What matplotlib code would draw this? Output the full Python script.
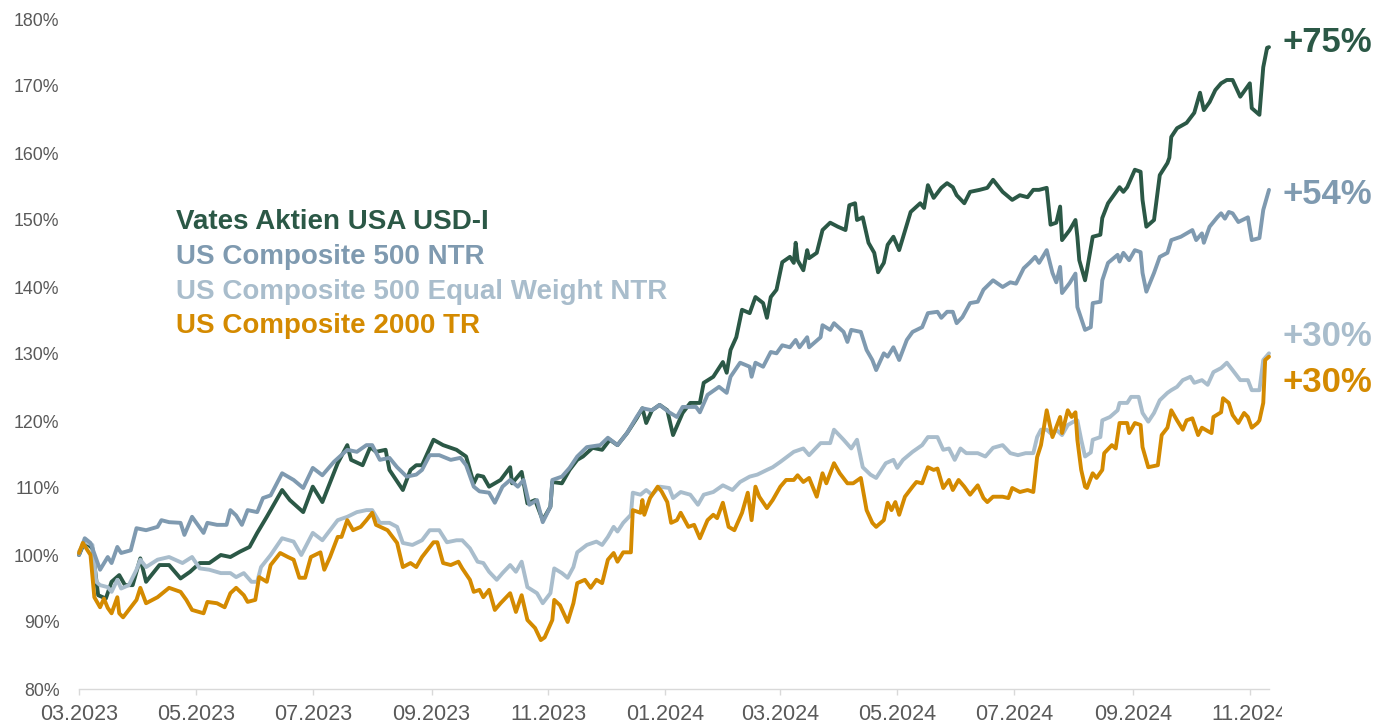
import pandas as pd
import matplotlib
matplotlib.use("Agg")
import matplotlib.pyplot as plt
import matplotlib.dates as mdates
from matplotlib.transforms import Bbox

plt.rcParams['font.family'] = ['Liberation Sans', 'DejaVu Sans']

# indexed performance, (days since start, value in %)
start = pd.Timestamp("2023-03-01")

vates = [(0, 100), (3, 102), (7, 101), (10, 94), (14, 93.5), (17, 96), (21, 97), (24, 95.5), (28, 95.5), (32, 99.5),
         (35, 96), (42, 98.5), (47, 98.5), (53, 96.5), (58, 97.5), (63, 98.8), (68, 98.8), (74, 100), (79, 99.7),
         (84, 100.5), (89, 101.2), (93, 103.3), (98, 105.7), (103, 108.2), (106, 109.7), (110, 108.2), (117, 106.4),
         (122, 110.2), (127, 107.9), (135, 113.7), (140, 116.4), (142, 114.2), (148, 113.4), (152, 116.1), (155, 115.4),
         (160, 115.7), (162, 112.7), (169, 109.7), (173, 112.7), (176, 113.4), (179, 113.4), (185, 117.2), (190, 116.4),
         (197, 115.7), (202, 114.7), (206, 110.7), (208, 111.9), (211, 111.7), (214, 110.2), (220, 111.2), (225, 113.1),
         (226, 110.7), (231, 112.4), (234, 107.7), (238, 108.2), (242, 105.2), (246, 107.2), (247, 110.9), (252, 110.7),
         (256, 112.7), (260, 114.2), (263, 114.7), (268, 116), (273, 115.7), (277, 117.2), (281, 116.4), (286, 118.2),
         (291, 120.4), (294, 121.9), (296, 119.7), (299, 121.6), (303, 122.4), (307, 121.6), (310, 117.9), (315, 121.2),
         (319, 122.7), (324, 122.7), (326, 125.7), (331, 126.6), (336, 128.8), (338, 127.2), (340, 130.6), (343, 132.5),
         (346, 136.6), (350, 136.1), (353, 138.5), (357, 137.6), (359, 135.4), (361, 138.5), (364, 139.6), (367, 143.7),
         (371, 144.5), (373, 143.6), (374, 146.6), (375, 144), (378, 142.5), (380, 145.5), (381, 144.3), (385, 145.1),
         (388, 148.5), (392, 149.6), (396, 149), (400, 148.5), (402, 152.2), (405, 152.5), (406, 150), (409, 150.4),
         (412, 146.6), (415, 145.1), (417, 142.2), (420, 143.6), (422, 146.3), (425, 147.5), (428, 145.5), (434, 151.2),
         (439, 152.5), (441, 151.8), (443, 155.2), (446, 153.3), (450, 154.8), (453, 155.5), (456, 154.9), (458, 153.7),
         (462, 152.5), (465, 154.2), (470, 154.5), (474, 154.8), (477, 156), (482, 154.2), (487, 153), (491, 153.7),
         (495, 153.4), (498, 154.5), (501, 154.5), (505, 154.8), (507, 149.3), (510, 149.6), (512, 152), (513, 147),
         (517, 148.5), (520, 150), (521, 147.5), (522, 144), (525, 141), (526, 142.5), (529, 147.5), (533, 147.8),
         (534, 150.3), (537, 152.5), (540, 153.7), (543, 154.9), (545, 154.2), (547, 154.9), (551, 157.5), (554, 157.2),
         (555, 153), (557, 149), (561, 150), (564, 156.7), (568, 158.5), (569, 159.3), (570, 162.4), (573, 163.7),
         (578, 164.5), (582, 166), (585, 169), (587, 166.4), (590, 167.6), (593, 169.4), (596, 170.4), (599, 170.9),
         (602, 170.9), (606, 168.4), (611, 170.4), (612, 166.7), (616, 165.7), (618, 172.8), (620, 175.7), (621, 175.8)]

comp500 = [(0, 100), (3, 102.5), (6, 101.8), (11, 97.8), (15, 99.7), (17, 98.8), (20, 101.2), (22, 100.3), (27, 100.7),
           (30, 104), (35, 103.7), (41, 104.2), (43, 105.2), (47, 104.9), (53, 104.8), (55, 103), (59, 105.7), (65, 103.3),
           (67, 104.8), (72, 104.5), (77, 104.5), (79, 106.7), (82, 105.9), (85, 104.5), (88, 106.7), (93, 106.4),
           (96, 108.5), (100, 108.9), (106, 112.2), (112, 111.2), (117, 110), (122, 113), (127, 111.9), (133, 113.9),
           (140, 115.7), (145, 115.4), (150, 116.4), (153, 116.4), (157, 114.2), (162, 114.5), (166, 113.1), (171, 111.7),
           (176, 112), (179, 112.7), (183, 114.9), (188, 114.9), (194, 114.2), (199, 114.5), (202, 113.4), (206, 110.2),
           (209, 109.5), (214, 109.3), (217, 107.8), (221, 110.2), (225, 111.2), (229, 110.2), (232, 111.2), (235, 107.5),
           (239, 108.2), (242, 104.9), (246, 107.2), (247, 111.2), (252, 111.7), (256, 113), (260, 114.7), (265, 116.1),
           (272, 116.4), (276, 117.5), (281, 116.4), (286, 118.2), (291, 120.6), (294, 121.9), (299, 121.6), (303, 122.4),
           (308, 121.3), (312, 120.6), (315, 122.1), (322, 122.1), (324, 121.3), (328, 123.9), (334, 125.1), (338, 124.2),
           (340, 126.6), (345, 128.7), (350, 128.1), (351, 126.6), (353, 128.7), (357, 128.1), (361, 130.3), (364, 130.1),
           (367, 131.3), (371, 131), (374, 132.1), (376, 131), (380, 132.5), (381, 131), (387, 132.5), (388, 134.3),
           (392, 133.6), (394, 134.6), (399, 133.3), (401, 131.8), (403, 133.6), (408, 133.3), (411, 130.6), (414, 129.1),
           (416, 127.6), (420, 130.1), (422, 129.6), (425, 131), (428, 129.1), (432, 132.1), (435, 133.3), (440, 134),
           (443, 136.1), (448, 136.3), (450, 135.4), (453, 136.3), (456, 136.3), (458, 134.6), (461, 135.5), (465, 137.6),
           (469, 137.8), (472, 139.6), (477, 141), (482, 140), (486, 140.7), (489, 140.5), (493, 142.8), (496, 143.6),
           (499, 144.5), (501, 143.6), (505, 145.5), (508, 142.1), (510, 140.7), (512, 143), (513, 139.1), (517, 140.6),
           (520, 142), (521, 137), (525, 133.6), (528, 134), (529, 137.6), (533, 137.8), (534, 141), (537, 143.6),
           (542, 144.8), (543, 143.8), (545, 145.1), (548, 144), (551, 145.5), (554, 145.2), (555, 142.1), (557, 139.3),
           (561, 142.1), (564, 144.5), (568, 145.1), (570, 147), (575, 147.5), (578, 148), (581, 148.5), (583, 147),
           (586, 148), (587, 146.6), (590, 149), (594, 150.4), (596, 151), (598, 150.2), (600, 151.2), (602, 151),
           (605, 149.7), (610, 150.4), (612, 147), (616, 147.3), (618, 151.5), (621, 154.5)]

comp500_ew = [(0, 100.5), (3, 102), (7, 101.5), (9, 96), (11, 95.5), (15, 95.2), (17, 94.5), (20, 96.3), (22, 95),
              (26, 95.5), (30, 97.8), (32, 99.3), (35, 98.2), (41, 99.3), (47, 99.7), (54, 98.8), (59, 99.7), (63, 98),
              (68, 97.8), (74, 97.3), (79, 97.3), (82, 96.7), (86, 97.3), (90, 96), (93, 96), (95, 98.2), (100, 100),
              (106, 102.5), (112, 102), (116, 100), (122, 103.3), (127, 102.2), (135, 105.2), (140, 105.7), (145, 106.4),
              (150, 106.7), (153, 106.7), (157, 104.8), (162, 104.8), (166, 104.2), (169, 101.8), (174, 101.5),
              (179, 102.2), (183, 103.7), (188, 103.7), (192, 101.9), (197, 102.2), (200, 102.2), (204, 101), (208, 99),
              (211, 98.8), (214, 97.5), (218, 96.3), (221, 97.3), (225, 98.5), (228, 97.5), (231, 99), (234, 95.2),
              (239, 94.3), (242, 92.8), (246, 94.3), (248, 98), (252, 97.3), (255, 96.6), (258, 98.2), (260, 100.4),
              (265, 101.5), (270, 102), (273, 101.5), (276, 102.7), (279, 104.2), (281, 103.5), (284, 104.8), (288, 106),
              (289, 109.3), (293, 109), (296, 109.7), (299, 109), (303, 110.2), (308, 110), (310, 108.5), (314, 109.4),
              (319, 109), (323, 107.5), (326, 109), (331, 109.4), (336, 110.4), (341, 109.7), (345, 110.9), (350, 111.7),
              (354, 112), (359, 112.7), (362, 113.1), (366, 113.9), (373, 115.4), (378, 115.9), (381, 114.9),
              (387, 116.7), (392, 116.7), (394, 118.7), (399, 117.2), (403, 115.9), (406, 117.2), (409, 113.1), (413, 112),
              (416, 111.5), (421, 113.7), (425, 114.2), (427, 113), (430, 114.2), (435, 115.4), (440, 116.4),
              (443, 117.6), (448, 117.6), (451, 115.7), (454, 115.9), (457, 114.2), (460, 115.9), (463, 115.2),
              (469, 115.2), (473, 114.7), (477, 116), (482, 116.4), (486, 115.2), (490, 114.9), (494, 115.2),
              (498, 115.2), (500, 117.6), (502, 118.7), (505, 118.7), (508, 117.9), (510, 118.7), (513, 117.9),
              (516, 119.4), (519, 119.9), (521, 120.1), (523, 117.2), (525, 114.7), (528, 115.3), (529, 117.2),
              (533, 117.6), (534, 120.1), (538, 120.6), (542, 121.6), (543, 122.7), (547, 122.7), (549, 123.6),
              (553, 123.6), (555, 121.2), (558, 119.9), (561, 121.2), (564, 123.1), (568, 124.2), (570, 124.6),
              (573, 125.1), (576, 126.1), (580, 126.6), (582, 125.7), (586, 126.1), (589, 125.4), (592, 127.3),
              (596, 127.9), (599, 128.7), (602, 127.6), (606, 126.1), (610, 126.1), (612, 124.6), (616, 124.6),
              (618, 129.1), (621, 130.1)]

comp2000 = [(0, 100.3), (2, 101.8), (6, 100), (8, 93.7), (11, 92.2), (13, 93.5), (15, 92.1), (17, 91.3), (20, 93.7),
            (21, 91.3), (23, 90.7), (27, 92.2), (30, 93.3), (32, 95.1), (35, 92.8), (41, 93.7), (47, 95.1), (53, 94.5),
            (56, 93.3), (59, 91.8), (65, 91.3), (67, 93), (72, 92.8), (76, 92.2), (79, 94.3), (82, 95.1), (86, 94),
            (88, 93), (92, 93.3), (94, 96.7), (98, 96), (100, 98.5), (105, 100.3), (109, 99.7), (112, 99.3), (115, 96.6),
            (118, 96.6), (121, 99.7), (126, 100.4), (128, 97.8), (131, 99.7), (135, 102.7), (137, 102.7), (140, 105.2),
            (143, 103.7), (147, 104.2), (150, 105.2), (153, 106.3), (155, 104.5), (161, 103.7), (166, 101.8), (169, 98.2),
            (173, 98.8), (176, 98.2), (179, 99.7), (185, 101.9), (187, 101.9), (190, 98.8), (194, 98.5), (198, 99),
            (200, 98), (204, 96.3), (206, 94.5), (209, 94.8), (211, 93.7), (214, 94.8), (217, 91.8), (220, 92.8),
            (223, 93.7), (225, 94.3), (228, 91.5), (231, 94), (234, 90.3), (238, 89.1), (241, 87.3), (243, 87.7),
            (247, 90.3), (248, 93.3), (251, 92.5), (255, 90), (258, 92.8), (260, 95.8), (264, 96.3), (267, 95.1),
            (270, 96.3), (273, 95.8), (276, 99.3), (279, 100.3), (281, 99), (284, 100.4), (288, 100.4), (289, 106.7),
            (293, 106.3), (294, 108.2), (295, 106), (298, 108.5), (302, 110.2), (304, 109.5), (307, 107.9), (309, 104.8),
            (312, 105.2), (314, 106.3), (318, 104.2), (321, 104.5), (324, 102.5), (328, 105.2), (331, 106), (333, 105.5),
            (336, 107.8), (339, 104.2), (342, 103.7), (346, 106.3), (349, 109.3), (351, 105.2), (353, 110.2),
            (355, 108.7), (359, 107), (362, 108.2), (366, 110.2), (369, 111.2), (373, 111.2), (375, 111.9), (378, 110.9),
            (381, 111.5), (385, 108.7), (388, 112.2), (390, 110.7), (394, 113.7), (397, 112.2), (401, 110.7),
            (404, 110.7), (408, 111.5), (411, 106.7), (414, 104.8), (416, 104.2), (420, 105.2), (422, 107.8),
            (424, 106.7), (426, 107.9), (428, 106), (431, 108.7), (435, 110.2), (437, 110.9), (440, 110.7), (443, 113.1),
            (446, 112.7), (448, 112.9), (451, 110), (454, 111.2), (456, 109.7), (459, 111.2), (462, 110.2), (465, 109),
            (469, 110.4), (472, 108.5), (474, 107.9), (477, 108.7), (482, 108.7), (485, 108.5), (487, 110), (491, 109.4),
            (495, 109.7), (498, 109.4), (500, 114.6), (502, 116.4), (505, 121.6), (508, 117.6), (510, 119.1),
            (512, 120.6), (513, 118.2), (516, 121.6), (518, 120.6), (520, 121.3), (521, 117.2), (523, 112.7),
            (525, 110.2), (526, 110), (529, 112.2), (531, 111.5), (534, 112.7), (535, 115.2), (539, 116.4), (541, 115.9),
            (543, 119.7), (547, 119.7), (548, 118.2), (551, 119.7), (554, 119.4), (555, 116.1), (558, 113.1),
            (563, 113.4), (565, 117.9), (568, 119), (570, 121.6), (573, 120.1), (576, 118.7), (578, 120.1), (581, 120.4),
            (584, 117.9), (586, 119), (589, 118.5), (591, 118.2), (592, 120.6), (596, 121.3), (597, 123.4), (600, 122.7),
            (602, 120.9), (605, 119.7), (608, 121.2), (610, 120.6), (612, 119), (615, 119.7), (616, 120.1), (618, 122.7),
            (619, 129.1), (621, 129.6)]

names = ["Vates Aktien USA USD-I", "US Composite 500 NTR",
         "US Composite 500 Equal Weight NTR", "US Composite 2000 TR"]
end_labels = ["+75%", "+54%", "+30%", "+30%"]
colors = ["#2b5846", "#7f9ab0", "#a9bdcc", "#d48a00"]
series = [vates, comp500, comp500_ew, comp2000]
zorders = [2, 4, 3, 5]

fig = plt.figure(figsize=(13.9, 7.27), dpi=100)
ax = fig.add_axes([79 / 1390, 1 - 689 / 727, (1269 - 79) / 1390, (689 - 19) / 727])

for data, c, z in zip(series, colors, zorders):
    days = [d for d, v in data]
    vals = [v for d, v in data]
    dates = start + pd.to_timedelta(days, unit="D")
    ax.plot(dates, vals, color=c, lw=2.8, zorder=z, clip_on=False,
            solid_joinstyle="round", solid_capstyle="round")

ax.set_xlim(start, start + pd.Timedelta(days=621))
ax.set_ylim(80, 180)

ax.set_yticks(range(80, 181, 10))
ax.set_yticklabels([f"{v}%" for v in range(80, 181, 10)])
ax.tick_params(axis="y", length=0, pad=14, labelsize=12.8, labelcolor="#595959")

ax.xaxis.set_major_locator(mdates.MonthLocator(bymonth=[1, 3, 5, 7, 9, 11]))
ax.xaxis.set_major_formatter(mdates.DateFormatter("%m.%Y"))
ax.tick_params(axis="x", length=4.5, width=1, color="#d9d9d9", pad=6,
               labelsize=15.5, labelcolor="#595959")

for s in ["top", "right", "left"]:
    ax.spines[s].set_visible(False)
ax.spines["bottom"].set_color("#d9d9d9")
ax.spines["bottom"].set_linewidth(1)

# the last date label is cut off at the right, as in the original
fig.canvas.draw()
clip = Bbox.from_extents(0, 0, 1282, 727)
for lbl in ax.get_xticklabels():
    lbl.set_clip_box(clip)
    lbl.set_clip_on(True)

# legend as coloured text
legend_y = [222, 257, 292, 326]
for name, c, y in zip(names, colors, legend_y):
    fig.text(176 / 1390, 1 - y / 727, name, color=c, fontsize=20,
             fontweight="bold", ha="left", va="center")

# end-of-line labels
end_y = [43, 194, 336, 382]
for lab, c, y in zip(end_labels, colors, end_y):
    fig.text(1283 / 1390, 1 - y / 727, lab, color=c, fontsize=25,
             fontweight="bold", ha="left", va="center")

fig.savefig("out.png", dpi=100)
